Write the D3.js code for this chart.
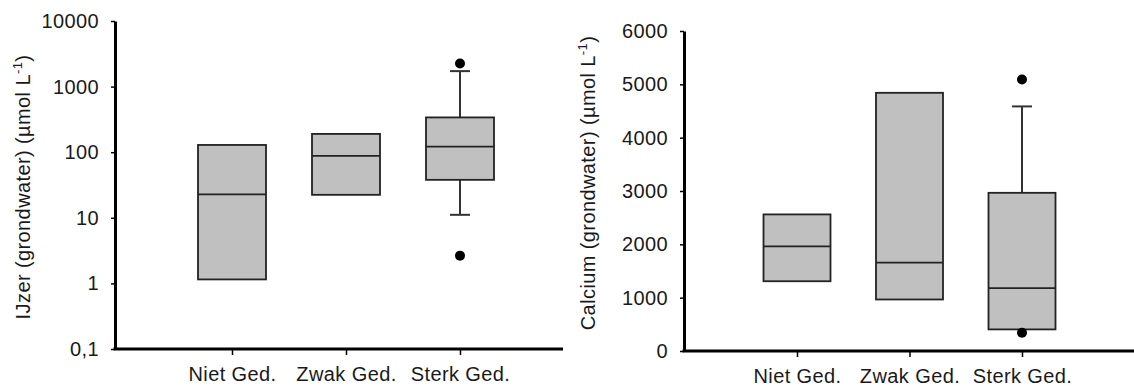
<!DOCTYPE html>
<html>
<head>
<meta charset="utf-8">
<script src="https://cdn.jsdelivr.net/npm/d3@7"></script>
<style>
  body { margin: 0; background: #fff; }
  svg text { font-family: "Liberation Sans", Arial, sans-serif; fill: #1a1a1a; letter-spacing: 0.4px; }
</style>
</head>
<body>
<div id="chart"></div>
<script>
const width = 1134;
const height = 388;

const categories = ["Niet Ged.", "Zwak Ged.", "Sterk Ged."];

// IJzer (log scale)
const ijzerQ1 = [1.15, 22.4, 37.9];
const ijzerMedian = [22.7, 88, 122];
const ijzerQ3 = [129, 190, 339];
const ijzerLow = [1.15, 22.4, 11.1];
const ijzerHigh = [129, 190, 1722];
const ijzerOutliers = [[], [], [2244, 2.65]];
const ijzerTicks = [0.1, 1, 10, 100, 1000, 10000];
const ijzerTickLabels = ["0,1", "1", "10", "100", "1000", "10000"];

// Calcium (linear scale)
const calciumQ1 = [1308, 966, 405];
const calciumMedian = [1963, 1658, 1178];
const calciumQ3 = [2561, 4841, 2966];
const calciumLow = [1308, 966, 405];
const calciumHigh = [2561, 4841, 4586];
const calciumOutliers = [[], [], [5090, 342]];
const calciumTicks = [0, 1000, 2000, 3000, 4000, 5000, 6000];

const svg = d3.select("#chart")
    .append("svg")
    .attr("width", width)
    .attr("height", height);

function boxPanel(opts) {
    const g = svg.append("g");

    const x = d3.scalePoint()
        .domain(categories)
        .range(opts.xRange);

    const y = opts.y;

    const rows = categories.map((c, i) => ({
        cat: c,
        q1: opts.q1[i], med: opts.med[i], q3: opts.q3[i],
        lo: opts.lo[i], hi: opts.hi[i], out: opts.out[i]
    }));

    const bw = opts.boxWidth;

    // whiskers
    rows.forEach(d => {
        if (d.hi > d.q3) {
            g.append("line")
                .attr("x1", x(d.cat)).attr("x2", x(d.cat))
                .attr("y1", y(d.q3)).attr("y2", y(d.hi))
                .attr("stroke", "#333").attr("stroke-width", 2);
            g.append("line")
                .attr("x1", x(d.cat) - 10).attr("x2", x(d.cat) + 10)
                .attr("y1", y(d.hi)).attr("y2", y(d.hi))
                .attr("stroke", "#333").attr("stroke-width", 2);
        }
        if (d.lo < d.q1) {
            g.append("line")
                .attr("x1", x(d.cat)).attr("x2", x(d.cat))
                .attr("y1", y(d.q1)).attr("y2", y(d.lo))
                .attr("stroke", "#333").attr("stroke-width", 2);
            g.append("line")
                .attr("x1", x(d.cat) - 10).attr("x2", x(d.cat) + 10)
                .attr("y1", y(d.lo)).attr("y2", y(d.lo))
                .attr("stroke", "#333").attr("stroke-width", 2);
        }
    });

    g.selectAll("rect.box")
        .data(rows)
        .join("rect")
        .attr("class", "box")
        .attr("x", d => x(d.cat) - bw / 2)
        .attr("width", bw)
        .attr("y", d => y(d.q3))
        .attr("height", d => y(d.q1) - y(d.q3))
        .attr("fill", "#c0c0c0")
        .attr("stroke", "#222")
        .attr("stroke-width", 1.8);

    g.selectAll("line.median")
        .data(rows)
        .join("line")
        .attr("class", "median")
        .attr("x1", d => x(d.cat) - bw / 2)
        .attr("x2", d => x(d.cat) + bw / 2)
        .attr("y1", d => y(d.med))
        .attr("y2", d => y(d.med))
        .attr("stroke", "#222")
        .attr("stroke-width", 1.8);

    rows.forEach(d => {
        g.selectAll(null)
            .data(d.out)
            .join("circle")
            .attr("cx", x(d.cat))
            .attr("cy", v => y(v))
            .attr("r", 5)
            .attr("fill", "#000");
    });

    // y axis
    const yAxis = g.append("g")
        .attr("transform", `translate(${opts.xAxisStart},0)`)
        .call(d3.axisLeft(y)
            .tickValues(opts.ticks)
            .tickFormat((v, i) => opts.tickLabels[i])
            .tickSize(4)
            .tickSizeOuter(0)
            .tickPadding(12));
    yAxis.select(".domain").attr("stroke", "#000").attr("stroke-width", 3);
    yAxis.selectAll(".tick line").attr("stroke", "#000").attr("stroke-width", 1.5);
    yAxis.selectAll(".tick text").attr("font-size", 20).attr("fill", "#1a1a1a");

    // x axis
    const xAxis = g.append("g")
        .attr("transform", `translate(0,${opts.yBase})`)
        .call(d3.axisBottom(x).tickSize(6).tickPadding(12));
    xAxis.select(".domain").remove();
    xAxis.selectAll(".tick line").attr("stroke", "#000").attr("stroke-width", 1.5);
    xAxis.selectAll(".tick text").attr("font-size", 20).attr("fill", "#1a1a1a");
    g.append("line")
        .attr("x1", opts.xAxisStart - 1.5).attr("x2", opts.xAxisEnd)
        .attr("y1", opts.yBase).attr("y2", opts.yBase)
        .attr("stroke", "#000").attr("stroke-width", 3);

    // y label
    const lbl = g.append("text")
        .attr("transform", `translate(${opts.labelX},${opts.labelY}) rotate(-90)`)
        .attr("text-anchor", "middle")
        .attr("font-size", 20);
    lbl.append("tspan").text(opts.label);
    lbl.append("tspan").attr("font-size", 13).attr("dy", -8).text("-1");
    lbl.append("tspan").attr("dy", 8).text(")");
}

boxPanel({
    y: d3.scaleLog().domain([0.1, 10000]).range([349, 21]),
    xRange: [232, 460],
    xAxisStart: 115, xAxisEnd: 563, yBase: 349,
    boxWidth: 68,
    q1: ijzerQ1, med: ijzerMedian, q3: ijzerQ3, lo: ijzerLow, hi: ijzerHigh, out: ijzerOutliers,
    ticks: ijzerTicks, tickLabels: ijzerTickLabels,
    label: "IJzer (grondwater) (\u00b5mol L",
    labelX: 30, labelY: 187
});

boxPanel({
    y: d3.scaleLinear().domain([0, 6000]).range([351, 31]),
    xRange: [797, 1022],
    xAxisStart: 684, xAxisEnd: 1134, yBase: 351,
    boxWidth: 67,
    q1: calciumQ1, med: calciumMedian, q3: calciumQ3, lo: calciumLow, hi: calciumHigh, out: calciumOutliers,
    ticks: calciumTicks, tickLabels: calciumTicks.map(String),
    label: "Calcium (grondwater) (\u00b5mol L",
    labelX: 595, labelY: 183
});
</script>
</body>
</html>
